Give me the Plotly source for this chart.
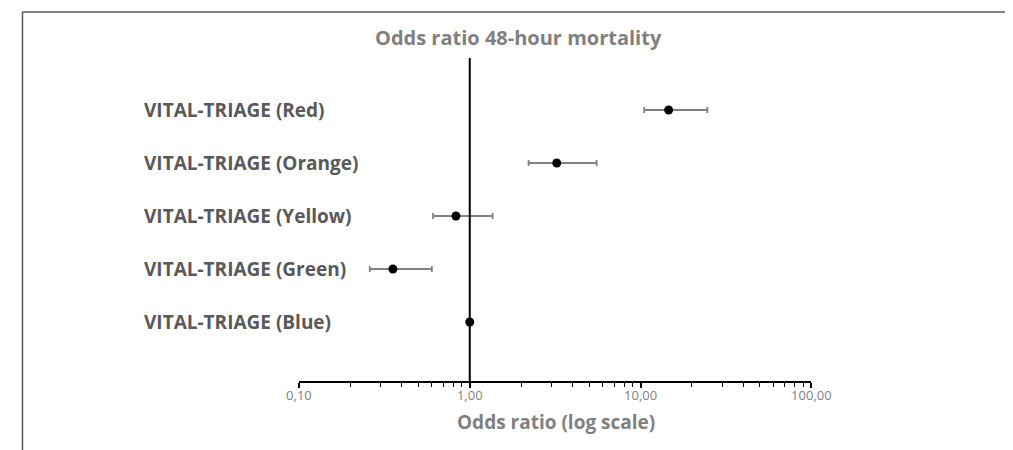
import plotly.graph_objects as go

categories = ["VITAL-TRIAGE (Red)", "VITAL-TRIAGE (Orange)", "VITAL-TRIAGE (Yellow)",
              "VITAL-TRIAGE (Green)", "VITAL-TRIAGE (Blue)"]
odds_ratio = [14.6, 3.23, 0.83, 0.355, 1.0]
ci_low = [10.5, 2.21, 0.61, 0.26, 1.0]
ci_high = [24.6, 5.53, 1.36, 0.60, 1.0]
row_pos = [5, 4, 3, 2, 1]

major_ticks = [0.1, 1, 10, 100]
major_labels = ["0,10", "1,00", "10,00", "100,00"]
minor_ticks = [m * d for d in [0.1, 1, 10] for m in range(2, 10)]

W, H = 1013, 450
# the page renders the figure 982 px wide, offset 20 px left / 8 px top
RW, OX, OY = 982, 20, 8


def px(x):
    return (x - OX) / RW


def py(y):
    return 1 - (y - OY) / H


err_plus = [h - v for h, v in zip(ci_high, odds_ratio)]
err_minus = [v - l for l, v in zip(ci_low, odds_ratio)]

fig = go.Figure()
fig.add_trace(go.Scatter(
    x=odds_ratio, y=row_pos, mode="markers",
    marker=dict(color="black", size=9),
    error_x=dict(type="data", symmetric=False, array=err_plus, arrayminus=err_minus,
                 color="#808080", thickness=1.8, width=3),
    showlegend=False, cliponaxis=False,
))

FONT = "Open Sans"
for cat, yv in zip(categories, row_pos):
    fig.add_annotation(text=f"<b>{cat}</b>", x=px(141), xref="paper", y=yv, yref="y",
                       xanchor="left", yanchor="middle", showarrow=False,
                       font=dict(family=FONT, size=19, color="#595959"))

fig.add_annotation(text="<b>Odds ratio 48-hour mortality</b>", x=px(519), xref="paper",
                   y=py(38), yref="paper", xanchor="center", yanchor="middle",
                   showarrow=False, font=dict(family=FONT, size=20, color="#808080"))

fig.add_annotation(text="<b>Odds ratio (log scale)</b>", x=px(556), xref="paper",
                   y=py(422), yref="paper", xanchor="center", yanchor="middle",
                   showarrow=False, font=dict(family=FONT, size=19, color="#808080"))

# reference line at OR = 1
fig.add_shape(type="line", xref="x", yref="paper", x0=1, x1=1,
              y0=py(381), y1=py(58), line=dict(color="black", width=2))

# outer frame (top and left edges visible)
fig.add_shape(type="line", xref="paper", yref="paper", x0=0.0015, x1=1.01,
              y0=py(12), y1=py(12), line=dict(color="#595959", width=1.5))
fig.add_shape(type="line", xref="paper", yref="paper", x0=0.0015, x1=0.0015,
              y0=-0.05, y1=py(12), line=dict(color="#595959", width=1.5))

fig.update_layout(
    width=W, height=H,
    margin=dict(l=0, r=0, t=0, b=0),
    paper_bgcolor="white", plot_bgcolor="white",
    xaxis=dict(type="log", range=[-1, 2], domain=[px(298.5), px(812)],
               tickvals=major_ticks, ticktext=major_labels,
               ticks="outside", ticklen=5, tickwidth=1.5, tickcolor="black",
               minor=dict(tickvals=minor_ticks, ticks="outside", ticklen=4,
                          tickwidth=1.2, tickcolor="black", showgrid=False),
               showline=True, linecolor="black", linewidth=2,
               showgrid=False, zeroline=False, ticklabelstandoff=-4,
               tickfont=dict(family=FONT, size=13, color="#7f7f7f")),
    yaxis=dict(range=[-0.113, 6.377], domain=[py(381), py(37)],
               showticklabels=False, showgrid=False, zeroline=False, showline=False),
)

fig.write_html("out.html")
